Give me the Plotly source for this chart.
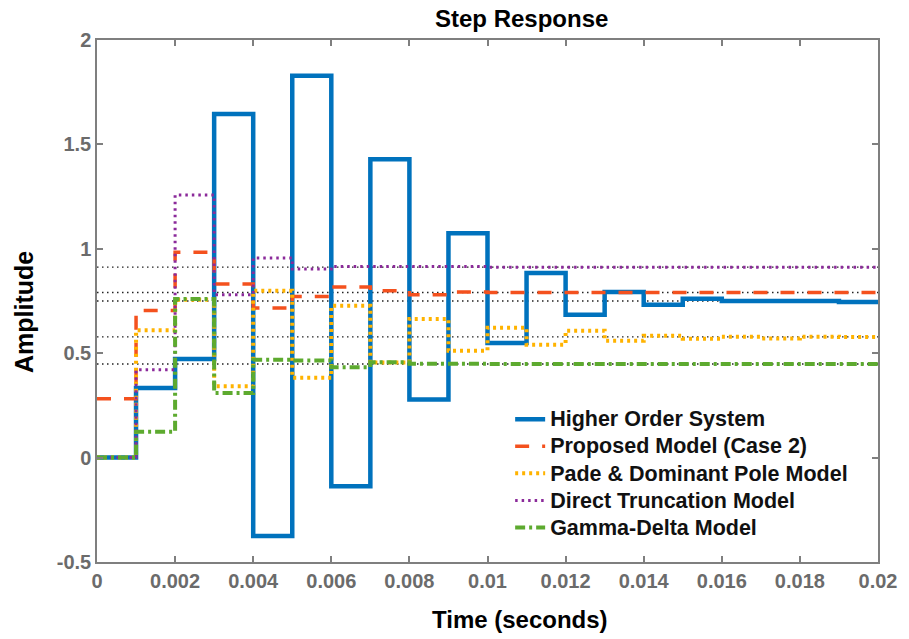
import plotly.graph_objects as go

# ---- data ----
time_edges = [i * 0.001 for i in range(21)]
higher_order = [0, 0.333, 0.472, 1.646, -0.376, 1.829, -0.137, 1.429, 0.278, 1.075,
                0.549, 0.884, 0.684, 0.793, 0.732, 0.761, 0.750, 0.750, 0.750, 0.745]
proposed = [0.282, 0.705, 0.984, 0.831, 0.716, 0.772, 0.817, 0.799, 0.780, 0.793,
            0.791, 0.791, 0.791, 0.791, 0.791, 0.791, 0.791, 0.791, 0.791, 0.791]
pade = [0, 0.610, 0.756, 0.342, 0.799, 0.382, 0.727, 0.455, 0.664, 0.512,
        0.622, 0.541, 0.608, 0.560, 0.584, 0.569, 0.579, 0.571, 0.579, 0.577]
direct = [0, 0.421, 1.258, 0.780, 0.956, 0.903, 0.915, 0.915, 0.915, 0.915,
          0.912, 0.912, 0.912, 0.912, 0.912, 0.912, 0.912, 0.912, 0.912, 0.912]
gamma_delta = [0, 0.124, 0.759, 0.309, 0.469, 0.465, 0.433, 0.457, 0.449, 0.449,
               0.448, 0.448, 0.448, 0.448, 0.448, 0.448, 0.448, 0.448, 0.448, 0.448]
steady_states = [0.912, 0.791, 0.750, 0.578, 0.448]

series_names = ["Higher Order System", "Proposed Model (Case 2)",
                "Pade & Dominant Pole Model", "Direct Truncation Model",
                "Gamma-Delta Model"]

x_tick_vals = [i * 0.002 for i in range(11)]
x_tick_text = ["0", "0.002", "0.004", "0.006", "0.008", "0.01", "0.012",
               "0.014", "0.016", "0.018", "0.02"]
y_tick_vals = [-0.5, 0, 0.5, 1, 1.5, 2]
y_tick_text = ["-0.5", "0", "0.5", "1", "1.5", "2"]

# ---- styles ----
styles = [
    dict(color="#0072BD", width=4.5, dash="solid"),
    dict(color="#F4511E", width=3.5, dash="14px,13px"),
    dict(color="#FFB300", width=4, dash="3px,4px"),
    dict(color="#8B2A9A", width=3, dash="2.5px,4px"),
    dict(color="#5DAA2F", width=4, dash="10px,4px,3px,4px"),
]

fig = go.Figure()

for ss in steady_states:
    fig.add_trace(go.Scatter(
        x=[time_edges[0], time_edges[-1]], y=[ss, ss], mode="lines",
        line=dict(color="#222222", width=1.4, dash="1.5px,3.5px"),
        showlegend=False, hoverinfo="skip"))

for name, vals, st in zip(series_names,
                          [higher_order, proposed, pade, direct, gamma_delta],
                          styles):
    fig.add_trace(go.Scatter(
        x=time_edges, y=vals + [vals[-1]], mode="lines",
        name='<span style="font-size:21.5px">' + name + '</span>',
        line=dict(shape="hv", **st)))

axis_common = dict(
    showline=True, linecolor="#7f7f7f", linewidth=1.5, mirror="ticks",
    ticks="inside", ticklen=6, tickcolor="#7f7f7f", tickwidth=1.5,
    showgrid=False, zeroline=False,
    tickfont=dict(family="Liberation Sans, Arial", size=20, color="#6b6b6b",
                  weight="bold"),
)

fig.update_layout(
    width=909, height=639,
    margin=dict(l=97, r=25, t=40, b=77),
    paper_bgcolor="white", plot_bgcolor="white",
    xaxis=dict(range=[0, 0.02], tickvals=x_tick_vals, ticktext=x_tick_text,
               **axis_common),
    yaxis=dict(range=[-0.5, 2], tickvals=y_tick_vals, ticktext=y_tick_text,
               **axis_common),
    legend=dict(x=0.529, y=0.309, xanchor="left", yanchor="top",
                bgcolor="rgba(0,0,0,0)", borderwidth=0, tracegroupgap=0,
                font=dict(family="Liberation Sans, Arial", size=18.5,
                          color="#111111", weight="bold")),
    showlegend=True,
    annotations=[
        dict(text="Step Response", xref="paper", yref="paper",
             x=(525 - 97) / 787, y=1, yshift=22, showarrow=False,
             xanchor="center", yanchor="middle",
             font=dict(family="Liberation Sans, Arial", size=24,
                       color="#000000", weight="bold")),
        dict(text="Time (seconds)", xref="paper", yref="paper",
             x=(523 - 97) / 787, y=0, yshift=-57, showarrow=False,
             xanchor="center", yanchor="middle",
             font=dict(family="Liberation Sans, Arial", size=24,
                       color="#000000", weight="bold")),
        dict(text="Amplitude", xref="paper", yref="paper",
             x=0, xshift=-73, y=(562 - 312) / 522, showarrow=False,
             textangle=-90, xanchor="center", yanchor="middle",
             font=dict(family="Liberation Sans, Arial", size=25,
                       color="#000000", weight="bold")),
    ],
)

fig.write_html("out.html")
